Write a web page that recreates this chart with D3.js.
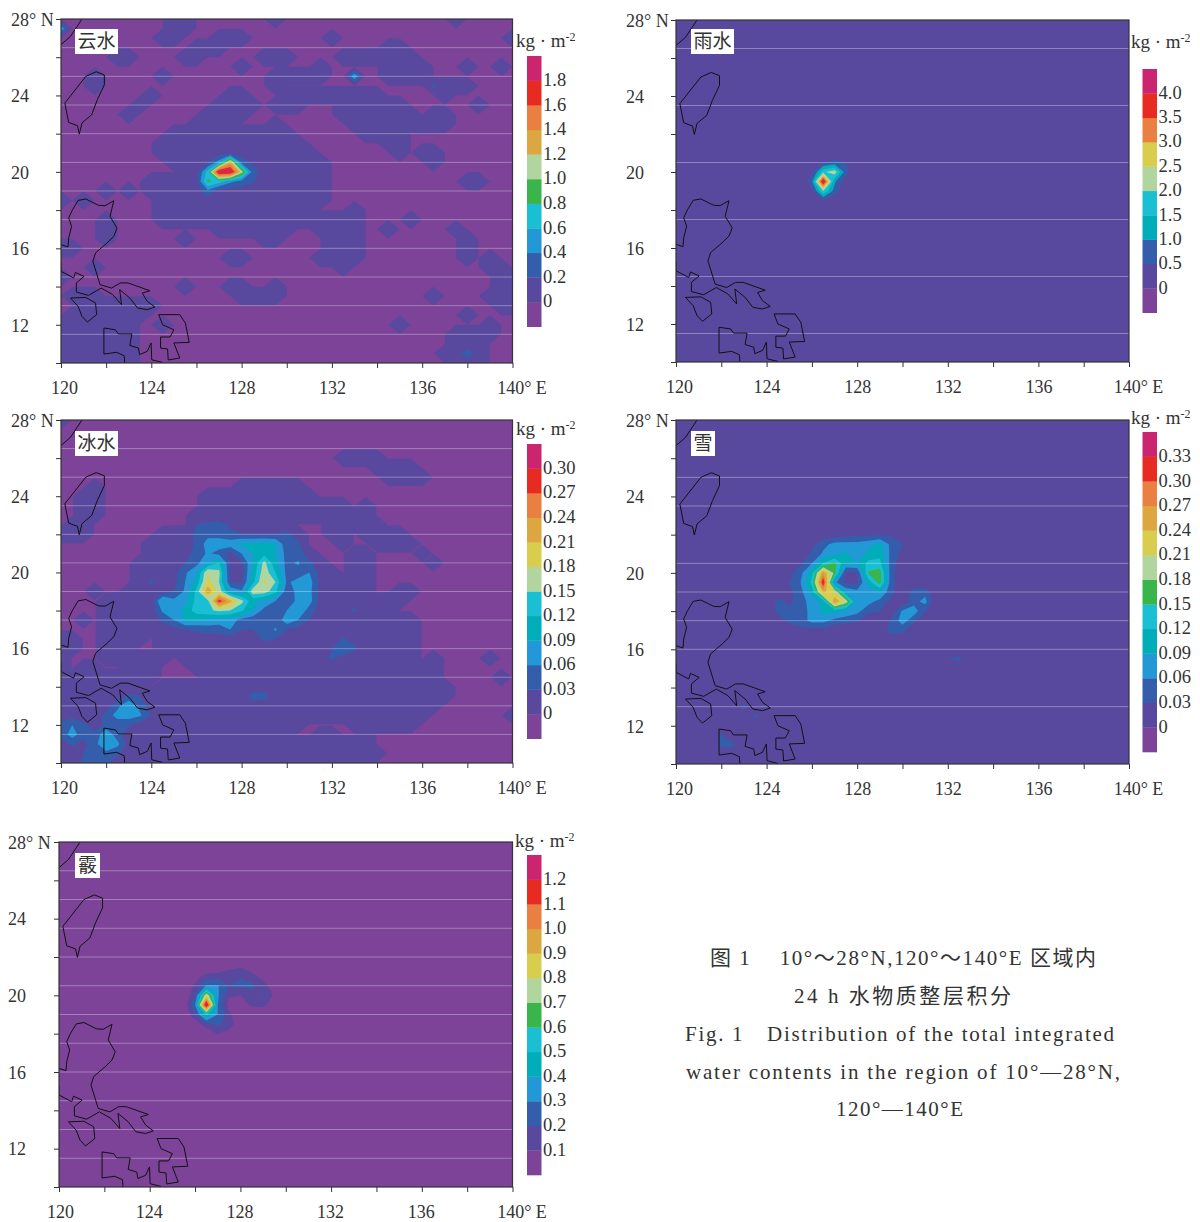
<!DOCTYPE html>
<html>
<head>
<meta charset="utf-8">
<script src="https://cdn.jsdelivr.net/npm/d3@7"></script>
<style>
  body { margin: 0; background: white; }
  text { font-family: "Liberation Serif", "Noto Sans CJK SC", serif; fill: #333; }
  .cjk { font-family: "Noto Sans CJK SC", sans-serif; }
  .caption { white-space: pre; }
</style>
</head>
<body>
<svg id="chart" width="1200" height="1222"></svg>
<script>
// model grid is 0.5 deg: 41 lons (120-140), 37 lats (28-10, row 0 = 28N)
var nx = 41;
var ny = 37;

var purple = "#7c4398", violet = "#59499e", blue = "#345eac", sky = "#2299d6",
    teal = "#00adb9", cyan = "#1bbfd3", green = "#3ab54b", pale = "#b1d59e",
    yellow = "#d8cd4c", gold = "#dca641", orange = "#e97f40", red = "#e72b22",
    magenta = "#cb256f";

var cloudLabels = ["0", "0.2", "0.4", "0.6", "0.8", "1.0", "1.2", "1.4", "1.6", "1.8"];
var rainLabels = ["0", "0.5", "1.0", "1.5", "2.0", "2.5", "3.0", "3.5", "4.0"];
var iceLabels = ["0", "0.03", "0.06", "0.09", "0.12", "0.15", "0.18", "0.21", "0.24", "0.27", "0.30"];
var snowLabels = ["0", "0.03", "0.06", "0.09", "0.12", "0.15", "0.18", "0.21", "0.24", "0.27", "0.30", "0.33"];
var graupelLabels = ["0.1", "0.2", "0.3", "0.4", "0.5", "0.6", "0.7", "0.8", "0.9", "1.0", "1.1", "1.2"];

var cloudColors = [purple, violet, blue, sky, cyan, green, pale, gold, orange, red, magenta];
var rainColors = [purple, violet, blue, teal, cyan, pale, yellow, orange, red, magenta];
var iceColors = [purple, violet, blue, sky, teal, cyan, pale, yellow, gold, orange, red, magenta];
var snowColors = [purple, violet, blue, sky, teal, cyan, green, pale, yellow, gold, orange, red, magenta];
var graupelColors = snowColors;

// where the faint positive field sits: one entry per grid row, flat pairs of [first, last] lon index
var cloudWide = [
  [10,11,19,19,35,35], [10,11], [9,10,14,16,24,24,40,40], [12,14,29,30],
  [5,6,11,12,18,20,25,31], [16,16,23,23,29,32,36,36,39,39], [3,3,9,9,19,23,26,26,29,32],
  [3,3,19,19,33,36], [8,8,15,16,20,28,34,34], [7,7,14,17,19,21,25,30,37,37],
  [6,6,13,16,25,31,33,34], [12,15,19,19,26,34], [10,20,27,30], [9,21,29,30],
  [9,22,30,30,32,33], [10,23,33,33], [11,23], [8,23,36,37], [4,4,6,6,8,23],
  [0,0,2,2,9,23], [9,22,26,26], [4,4,9,26,31,31], [4,4,14,20,23,26,29,29,35,35],
  [4,4,11,11,18,19,24,26,36,36], [0,1,24,26,36,36], [15,16,23,26,36,36,38,38],
  [3,3,25,25,38,39], [0,0,39,40], [11,11,15,16,19,19,39,40], [1,3,16,19,33,33,38,40],
  [2,8,39,40], [1,7,36,36], [0,6,9,9,30,30,38,38], [0,6,35,38], [0,6,35,37],
  [0,6,34,37], [0,6,35,37]
];
var iceWide = [
  [0,0], [], [], [], [25,28], [28,31], [29,32], [3,3,16,21], [2,3,13,22],
  [2,3,13,25,27,27], [2,3,12,27], [1,2,12,20,24,28], [0,2,9,21,24,25,27,30],
  [8,21,25,25,28,31], [8,22,26,27,32,32], [7,23,26,27,33,33], [7,24,26,27], [7,27],
  [3,3,6,27,30,31], [4,30], [4,29], [2,2,4,31], [4,31], [0,1,4,7,9,31], [0,1,4,6,9,31],
  [0,0,4,9,11,31,33,33,38,38], [0,0,2,3,6,8,12,33], [0,8,13,33,39,39], [0,7,9,34],
  [0,34], [0,33], [0,32,40,40], [0,21,26,31], [0,20,23,24,27,27], [0,27], [0,28], [0,27]
];
var cloudWideValue = 0.1;
var iceWideValue = 0.015;

// [lat, first lon, values going east at 0.5 deg]
var cloudRows = [
  [27.5, 120, .55], [25, 133, .55], [24.5, 136.5, .25], [10.5, 138, .3],
  [20.5, 126.5, .15, .5, 1.3, .3, .15],
  [20, 126, .12, .7, 1.9, 1.9, 1.1, .3, .1],
  [19.5, 126, .15, .85, .7, .45, .32, .22, .1],
  [19, 126.5, .35], [18.5, 127, .21], [18.5, 128.5, .21]
];
var rainRows = [
  [20.5, 126.5, .45, .7, .5],
  [20, 126, .3, 1.9, 2.3, .7],
  [19.5, 126, .9, 4.2, 1.1, .1],
  [19, 126, .3, 2, .8],
  [18.5, 126.5, .4]
];
var iceRows = [
  [22.5, 126, .03, .036, .04, .025],
  [22, 125.5, .02, .035, .05, .05, .035, .03, .03, .03, .03, .035, .02],
  [21.5, 126, .035, .075, .075, .08, .095, .095, .10, .09, .04, .035],
  [21, 125.5, .02, .04, .065, .05, .02, .06, .09, .11, .09, .05, .04, .02],
  [20.5, 125.5, .03, .05, .09, .12, .03, .025, .09, .16, .10, .05, .065, .035],
  [20, 125, .02, .055, .085, .18, .16, .02, .02, .10, .17, .12, .05, .045, .06, .02],
  [19.5, 125, .02, .06, .10, .19, .15, .03, .025, .11, .185, .15, .055, .07, .075, .02],
  [19, 124.5, .02, .03, .065, .13, .235, .17, .085, .065, .17, .165, .13, .04, .07, .07, .02],
  [18.5, 124.5, .095, .07, .08, .13, .14, .29, .22, .16, .10, .08, .06, .035, .07, .075],
  [18, 124.5, .065, .07, .10, .135, .145, .155, .15, .125, .09, .05, .035, .06, .09, .045],
  [17.5, 124.5, .035, .06, .095, .09, .085, .08, .075, .05, .04, .06, .035, .08, .06, .03],
  [17, 125, .02, .03, .035, .04, .04, .06, .03, .03, .035, .065, .03, .02],
  [16.5, 129, .035, .03],
  [19.5, 124, .035], [18, 133, .035],
  [16.5, 132.5, .035], [16, 132, .03, .06, .035], [15.5, 132, .035],
  [13.5, 128.5, .04, .04],
  [13.5, 123, .035, .03], [13, 122.5, .05, .09, .05],
  [12.5, 122, .04, .075, .075, .065, .03], [12, 122.5, .035, .035],
  [12, 120, .04, .06, .035, .02, .035], [11.5, 120, .04, .075, .04, .035, .09, .04],
  [11, 120.5, .035, .02, .05, .09, .07],
  [10.5, 121, .03, .04, .05, .035], [10, 121, .035, .035, .035]
];
var snowRows = [
  [22, 126.5, .01, .015, .02, .025, .025, .025, .025, .01],
  [21.5, 126, .02, .05, .07, .07, .07, .08, .10, .05, .03],
  [21, 126, .035, .065, .08, .095, .07, .10, .11, .05, .02],
  [20.5, 125.5, .025, .06, .12, .16, .09, .09, .13, .13, .045, .01],
  [20, 125, .02, .05, .11, .27, .17, .02, .03, .155, .165, .04, .01],
  [19.5, 125, .03, .06, .13, .33, .07, .02, .025, .10, .165, .04, .01],
  [19, 125, .02, .05, .10, .25, .21, .09, .07, .08, .09, .04],
  [18.5, 124.5, .04, .02, .05, .07, .10, .27, .20, .08, .07, .05, .02],
  [18, 124.5, .04, .04, .045, .07, .10, .10, .08, .07, .04, .03, .01],
  [17.5, 124.5, .01, .04, .045, .07, .07, .05, .045, .035],
  [17, 125, .005, .02, .02, .02],
  [19, 130.5, .05, .05], [18.5, 130.5, .05, .07], [18, 130, .065, .075, .035],
  [17.5, 129.5, .035, .075, .04], [17, 129.5, .05, .04],
  [15.5, 132, .03, .04], [13, 123, .04], [12.5, 123.5, .04], [11.5, 122, .035], [11, 122, .04, .04]
];
var graupelRows = [
  [21.5, 127.5, .06, .09, .03],
  [21, 126, .05, .14, .15, .17, .19, .15, .05],
  [20.5, 126, .12, .31, .31, .20, .22, .22, .15, .03],
  [20, 126, .19, .8, .32, .12, .10, .17, .21, .08],
  [19.5, 125.5, .02, .30, 1.3, .30, .05, .02, .12, .13, .03],
  [19, 126, .18, .52, .30, .13],
  [18.5, 126, .03, .17, .22, .16, .02],
  [18, 127, .11, .05]
];

// coastlines, [lon, lat]
var chinaCoast = [[120,26.66],[120.42,27.09],[120.93,28]];
var taiwanCoast = [[120.81,21.98],[120.73,22.42],[120.34,22.59],[120.17,23.6],[121.1,25],[121.56,25.24],[121.92,25.07],[121.92,24.56],[121.61,23.78],[121.36,22.99],[120.93,22.56],[120.81,21.98]];
var luzonCoast = [[120,16.19],[120.31,16.07],[120.34,16.54],[120.47,17.15],[120.34,17.59],[120.51,18.02],[120.76,18.51],[121.1,18.58],[121.66,18.25],[121.95,18.23],[122.34,18.49],[122.17,17.67],[122.48,17.06],[122.34,16.63],[122.04,16.28],[121.53,15.76],[121.41,15.32],[121.73,14.1],[122.24,13.92],[122.63,14.19],[122.97,14.19],[123.94,13.78],[123.6,13.66],[123.82,13.23],[124.16,12.93],[123.82,12.79],[123.39,12.88],[123.05,13.4],[122.6,13.84],[122.68,13.05],[122.29,13.58],[121.78,13.92],[121.22,13.54],[120.68,13.71],[120.68,14.19],[121.02,14.53],[120.64,14.74],[120.56,14.45],[120,14.8],[120,15.27]];
var mindoroCoast = [[120.42,13.4],[121.1,13.43],[121.53,13.14],[121.58,12.53],[121.17,12.14],[120.93,12.44],[120.76,12.96],[120.42,13.4]];
var panayCoast = [[122.82,10],[122.8,10.38],[122.46,10.56],[121.9,10.47],[121.9,11.83],[122.41,11.74],[122.54,11.52],[123.14,11.52],[123.05,10.92],[123.43,10.78],[123.48,10.44],[123.82,10.61],[123.99,11.05],[124.02,10.17],[124.5,10.03]];
var samarCoast = [[124.33,12.53],[125.26,12.53],[125.51,12.09],[125.68,11.08],[125,11.05],[125.26,10.26],[124.75,10.16],[124.72,10.73],[124.41,10.78],[124.41,11.36],[124.83,11.36],[125,11.74],[124.5,12],[124.33,12.53]];
var coasts = [chinaCoast, taiwanCoast, luzonCoast, mindoroCoast, panayCoast, samarCoast];

// pale stripes across the scan, by latitude
var stripesAll = [26.5, 25, 23.5, 22, 20.5, 19, 17.5, 16, 14.5, 13, 11.5];
var stripesRain = [26.5, 23.5, 20.5, 17.5, 14.5, 11.5];
var stripesSnow = [25, 23.5, 20.5, 19, 17.5, 16, 13];

var captionLines = [
  "图 1\u2003\u200910°～28°N,120°～140°E 区域内",
  "24 h 水物质整层积分",
  "Fig. 1\u2003Distribution of the total integrated",
  "water contents in the region of 10°—28°N,",
  "120°—140°E"
];

var panels = [
  { name: "云水", wide: cloudWide, wideValue: cloudWideValue, rows: cloudRows, labels: cloudLabels, colors: cloudColors, levels: [0.001, .2, .4, .6, .8, 1, 1.2, 1.4, 1.6, 1.8], stripes: stripesAll,
    box: [61, 512.5, 19, 363], bar: [527, 56, 326.7], unitAt: [516, 47], tag: [75, 29, 43], nudge: 0, yText: -50 },
  { name: "雨水", wide: null, rows: rainRows, labels: rainLabels, colors: rainColors, levels: [0, .5, 1, 1.5, 2, 2.5, 3, 3.5, 4], stripes: stripesRain,
    box: [676, 1129, 20, 362], bar: [1142.5, 69, 312.7], unitAt: [1131, 48], tag: [691, 29, 43], nudge: 0, yText: -50 },
  { name: "冰水", wide: iceWide, wideValue: iceWideValue, rows: iceRows, labels: iceLabels, colors: iceColors, levels: [0.001, .03, .06, .09, .12, .15, .18, .21, .24, .27, .30], stripes: stripesAll,
    box: [61, 512.5, 420, 763], bar: [527, 444, 738.7], unitAt: [516, 435], tag: [75, 431, 43], nudge: 0, yText: -50 },
  { name: "雪", wide: null, rows: snowRows, labels: snowLabels, colors: snowColors, levels: [0, .03, .06, .09, .12, .15, .18, .21, .24, .27, .30, .33], stripes: stripesSnow,
    box: [676, 1129, 420, 764], bar: [1142.5, 432, 752], unitAt: [1131, 424], tag: [691, 431, 24], nudge: 0, yText: -50 },
  { name: "霰", wide: null, rows: graupelRows, labels: graupelLabels, colors: graupelColors, levels: [.1, .2, .3, .4, .5, .6, .7, .8, .9, 1, 1.1, 1.2], stripes: stripesAll,
    box: [59, 512.5, 842, 1187], bar: [527, 855, 1175], unitAt: [515, 847], tag: [75, 853, 25], nudge: -1, yText: -51 }
];

var svg = d3.select("#chart");

var buildGrid = function (p) {
  var values = new Array(nx * ny).fill(0);
  if (p.wide) {
    p.wide.forEach(function (spans, j) {
      for (var s = 0; s < spans.length; s += 2) {
        for (var i = spans[s]; i <= spans[s + 1]; i++) {
          values[j * nx + i] = p.wideValue;
        }
      }
    });
  }
  p.rows.forEach(function (row) {
    var j = Math.round((28 - row[0]) * 2);
    var i0 = Math.round((row[1] - 120) * 2);
    for (var k = 2; k < row.length; k++) {
      values[j * nx + i0 + k - 2] = row[k];
    }
  });
  return values;
};

panels.forEach(function (p, idx) {
  var x = d3.scaleLinear().domain([120, 140]).range([p.box[0], p.box[1]]);
  var y = d3.scaleLinear().domain([28, 10]).range([p.box[2], p.box[3]]);
  var g = svg.append("g");

  g.append("clipPath").attr("id", "clip" + idx).append("rect")
    .attr("x", x(120)).attr("y", y(28))
    .attr("width", x(140) - x(120)).attr("height", y(10) - y(28));

  var plot = g.append("g").attr("clip-path", "url(#clip" + idx + ")");

  plot.append("rect")
    .attr("x", x(120)).attr("y", y(28))
    .attr("width", x(140) - x(120)).attr("height", y(10) - y(28))
    .style("fill", p.colors[0]);

  // contour coords have node i at i + 0.5
  var path = d3.geoPath(d3.geoTransform({
    point: function (cx, cy) {
      this.stream.point(x(120 + (cx - 0.5) * 0.5), y(28 - (cy - 0.5) * 0.5));
    }
  }));
  var contours = d3.contours().size([nx, ny]).thresholds(p.levels)(buildGrid(p));

  plot.selectAll(".band")
    .data(contours)
  .enter().append("path")
    .attr("class", "band")
    .attr("d", path)
    .style("fill", function (d, i) { return p.colors[i + 1]; });

  plot.selectAll(".stripe")
    .data(p.stripes)
  .enter().append("line")
    .attr("class", "stripe")
    .attr("x1", x(120)).attr("x2", x(140))
    .attr("y1", function (d) { return y(d); })
    .attr("y2", function (d) { return y(d); })
    .style("stroke", "white").style("stroke-opacity", 0.32).style("stroke-width", 1);

  var line = d3.line().x(function (d) { return x(d[0]); }).y(function (d) { return y(d[1]); });
  plot.selectAll(".coast")
    .data(coasts)
  .enter().append("path")
    .attr("class", "coast")
    .attr("d", line)
    .style("fill", "none").style("stroke", "#111").style("stroke-width", 1);

  g.append("rect")
    .attr("x", x(120)).attr("y", y(28))
    .attr("width", x(140) - x(120)).attr("height", y(10) - y(28))
    .style("fill", "none").style("stroke", "#333").style("stroke-width", 1.2);

  // axes
  var xAxis = d3.axisBottom(x).tickValues(d3.range(120, 141, 2)).tickSize(5)
    .tickFormat(function (d) { return d === 140 ? "140° E" : (d % 4 === 0 ? d : ""); });
  var xg = g.append("g").attr("transform", "translate(0," + y(10) + ")").call(xAxis);
  xg.select(".domain").remove();
  xg.selectAll("line").style("stroke", "#333");
  xg.selectAll("text")
    .attr("y", 18).attr("font-size", 18).attr("font-family", null)
    .attr("dx", function (d) { return d === 120 ? 3 + 2 * p.nudge : (d === 140 ? 9 : p.nudge); })
    .style("fill", "#333");

  var yAxis = d3.axisLeft(y).tickValues(d3.range(10, 29, 2)).tickSize(5)
    .tickFormat(function (d) { return d === 28 ? "28° N" : (d % 4 === 0 ? d : ""); });
  var yg = g.append("g").attr("transform", "translate(" + x(120) + ",0)").call(yAxis);
  yg.select(".domain").remove();
  yg.selectAll("line").style("stroke", "#333");
  yg.selectAll("text")
    .attr("x", p.yText).attr("y", 0.5).attr("font-size", 18).attr("font-family", null)
    .attr("text-anchor", "start")
    .style("fill", "#333");

  // name tag
  g.append("rect")
    .attr("x", p.tag[0]).attr("y", p.tag[1])
    .attr("width", p.tag[2]).attr("height", 25)
    .style("fill", "white");
  g.append("text").attr("class", "cjk")
    .attr("x", p.tag[0] + p.tag[2] / 2).attr("y", p.tag[1] + 19)
    .attr("text-anchor", "middle").attr("font-size", 19)
    .style("fill", "#333")
    .text(p.name);

  // colour bar
  var band = d3.scaleBand().domain(d3.range(p.colors.length)).range([p.bar[2], p.bar[1]]);
  g.selectAll(".swatch")
    .data(p.colors)
  .enter().append("rect")
    .attr("class", "swatch")
    .attr("x", p.bar[0]).attr("width", 14.5)
    .attr("y", function (d, i) { return band(i); })
    .attr("height", band.bandwidth() + 0.3)
    .style("fill", function (d) { return d; });

  g.selectAll(".barlabel")
    .data(p.labels)
  .enter().append("text")
    .attr("class", "barlabel")
    .attr("x", p.bar[0] + 16)
    .attr("y", function (d, i) { return band(i) + 5.3; })
    .attr("font-size", 18.5)
    .text(function (d) { return d; });

  // unit
  var unit = g.append("text").attr("x", p.unitAt[0]).attr("y", p.unitAt[1]).attr("font-size", 19);
  unit.append("tspan").text("kg · m");
  unit.append("tspan").attr("dy", -6).attr("font-size", 12).text("-2");
});

svg.selectAll(".caption")
  .data(captionLines)
.enter().append("text")
  .attr("class", "caption")
  .attr("x", function (d, i) { return [903, 902.5, 899.5, 903, 899.5][i]; })
  .attr("y", function (d, i) { return [965, 1003, 1041, 1079, 1116][i]; })
  .attr("text-anchor", "middle")
  .attr("font-size", 21)
  .attr("textLength", function (d, i) { return [386, 217, 429, 434, 127][i]; })
  .attr("lengthAdjust", "spacing")
  .text(function (d) { return d; });
</script>
</body>
</html>
